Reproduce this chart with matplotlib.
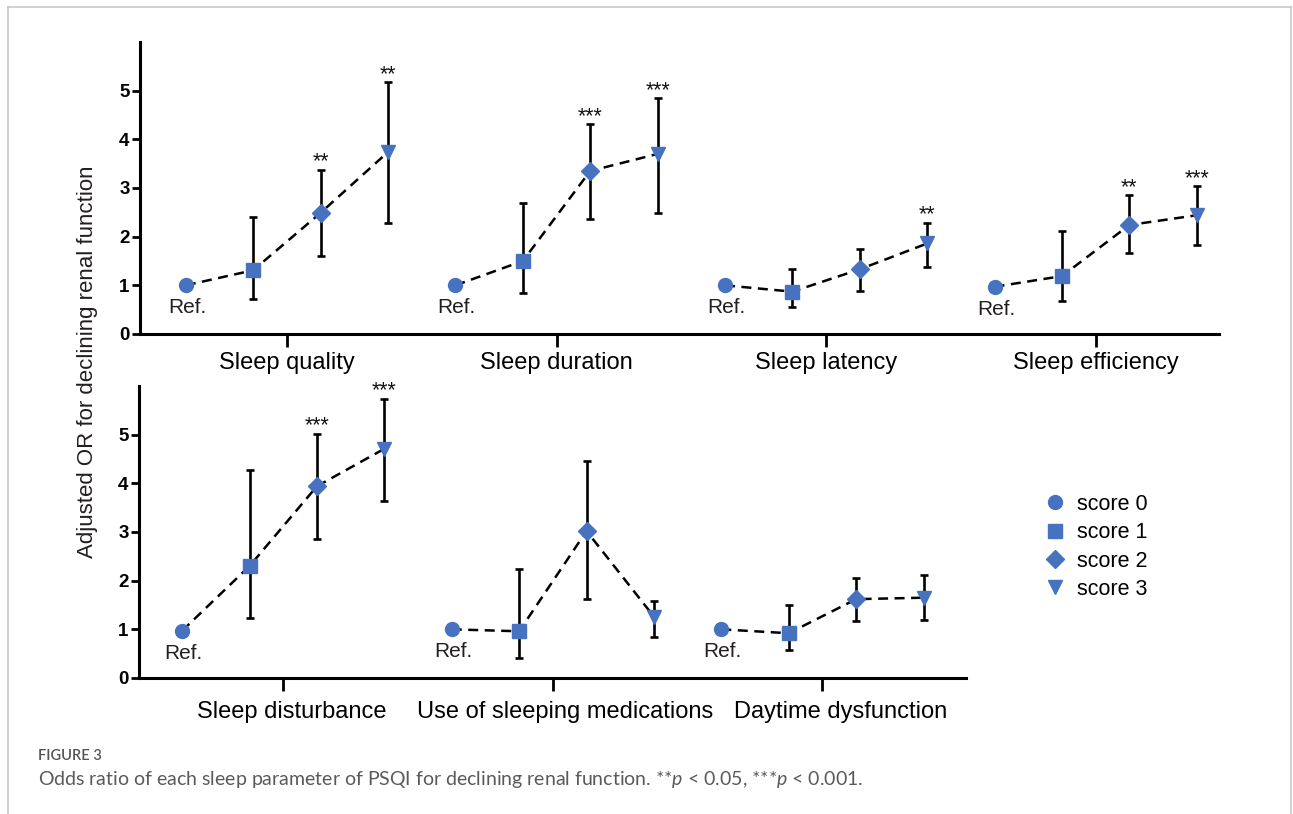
import numpy as np
import matplotlib
matplotlib.use("Agg")
import matplotlib.pyplot as plt
import matplotlib.transforms as mtransforms
from matplotlib.lines import Line2D

plt.rcParams['font.family'] = ['Liberation Sans', 'DejaVu Sans']
plt.rcParams['mathtext.fontset'] = 'custom'
plt.rcParams['mathtext.rm'] = 'Lato'
plt.rcParams['mathtext.it'] = 'Lato:italic'

# ---------------- data ----------------
categories_top = ["Sleep quality", "Sleep duration", "Sleep latency", "Sleep efficiency"]
categories_bottom = ["Sleep disturbance", "Use of sleeping medications", "Daytime dysfunction"]
score_labels = ["score 0", "score 1", "score 2", "score 3"]

# adjusted OR for score 0..3 (score 0 = Ref.)
or_sleep_quality = [1.00, 1.31, 2.49, 3.74]
lo_sleep_quality = [np.nan, 0.72, 1.61, 2.29]
hi_sleep_quality = [np.nan, 2.41, 3.38, 5.18]
sig_sleep_quality = ["", "", "**", "**"]

or_sleep_duration = [1.00, 1.50, 3.35, 3.70]
lo_sleep_duration = [np.nan, 0.85, 2.36, 2.48]
hi_sleep_duration = [np.nan, 2.70, 4.31, 4.85]
sig_sleep_duration = ["", "", "***", "***"]

or_sleep_latency = [1.00, 0.87, 1.33, 1.86]
lo_sleep_latency = [np.nan, 0.56, 0.88, 1.38]
hi_sleep_latency = [np.nan, 1.33, 1.75, 2.29]
sig_sleep_latency = ["", "", "", "**"]

or_sleep_efficiency = [0.97, 1.19, 2.24, 2.44]
lo_sleep_efficiency = [np.nan, 0.68, 1.66, 1.83]
hi_sleep_efficiency = [np.nan, 2.11, 2.85, 3.04]
sig_sleep_efficiency = ["", "", "**", "***"]

or_sleep_disturbance = [0.97, 2.30, 3.94, 4.71]
lo_sleep_disturbance = [np.nan, 1.24, 2.85, 3.63]
hi_sleep_disturbance = [np.nan, 4.28, 5.02, 5.74]
sig_sleep_disturbance = ["", "", "***", "***"]

or_medications = [1.00, 0.96, 3.02, 1.26]
lo_medications = [np.nan, 0.42, 1.62, 0.85]
hi_medications = [np.nan, 2.24, 4.46, 1.59]
sig_medications = ["", "", "", ""]

or_daytime = [1.00, 0.92, 1.62, 1.65]
lo_daytime = [np.nan, 0.57, 1.18, 1.19]
hi_daytime = [np.nan, 1.50, 2.05, 2.11]
sig_daytime = ["", "", "", ""]

y_ticks = [0, 1, 2, 3, 4, 5]

top_series = [
    (or_sleep_quality, lo_sleep_quality, hi_sleep_quality, sig_sleep_quality),
    (or_sleep_duration, lo_sleep_duration, hi_sleep_duration, sig_sleep_duration),
    (or_sleep_latency, lo_sleep_latency, hi_sleep_latency, sig_sleep_latency),
    (or_sleep_efficiency, lo_sleep_efficiency, hi_sleep_efficiency, sig_sleep_efficiency),
]
bottom_series = [
    (or_sleep_disturbance, lo_sleep_disturbance, hi_sleep_disturbance, sig_sleep_disturbance),
    (or_medications, lo_medications, hi_medications, sig_medications),
    (or_daytime, lo_daytime, hi_daytime, sig_daytime),
]

# ---------------- style ----------------
BLUE = "#4672C0"
MARKERS = ["o", "s", "D", "v"]
MSIZES = [10, 10, 9, 10]

W, H = 1293, 814
fig = plt.figure(figsize=(W / 100, H / 100), dpi=100)


def fx(px):
    return px / W


def fy(py):
    return 1 - py / H


ax_top = fig.add_axes([fx(140), fy(334), fx(1219) - fx(140), fy(42) - fy(334)])
ax_bot = fig.add_axes([fx(139), fy(678), fx(966) - fx(139), fy(386) - fy(678)])


def draw_panel(ax, cats, series, label_shift_px, label_pad):
    for ci, (vals, lo, hi, sig) in enumerate(series):
        xs = ci * 4 + np.arange(4)
        ax.plot(xs, vals, ls=(0, (4, 2.6)), color="black", lw=1.8, zorder=2)
        for k in range(4):
            v = vals[k]
            if not np.isnan(lo[k]):
                ax.errorbar([xs[k]], [v], yerr=[[v - lo[k]], [hi[k] - v]], fmt="none",
                            ecolor="black", elinewidth=1.9, capsize=3, capthick=1.9, zorder=3)
            ax.plot([xs[k]], [v], marker=MARKERS[k], ms=MSIZES[k], color=BLUE,
                    mec=BLUE, ls="none", zorder=4)
            if sig[k]:
                ax.annotate(sig[k], (xs[k], hi[k]), xytext=(0, 1.5), textcoords="offset points",
                            ha="center", va="baseline", fontsize=15.5, color="#111111")
        ax.annotate("Ref.", (xs[0], vals[0]), xytext=(1, -16), textcoords="offset points",
                    ha="center", va="center", fontsize=15, color="#231f20")
    ax.set_xticks([ci * 4 + 1.5 for ci in range(len(cats))])
    ax.set_xticklabels(cats)
    ax.set_ylim(0, 6)
    ax.set_yticks(y_ticks)
    ax.set_yticklabels([str(t) for t in y_ticks], fontweight="bold")
    for s in ["top", "right"]:
        ax.spines[s].set_visible(False)
    for s in ["left", "bottom"]:
        ax.spines[s].set_linewidth(2.2)
    ax.tick_params(axis="y", length=6, width=2, labelsize=13.5, pad=1.5)
    ax.tick_params(axis="x", length=9.5, width=2, labelsize=17, pad=label_pad, colors="black")
    for lab, dx in zip(ax.get_xticklabels(), label_shift_px):
        lab.set_transform(lab.get_transform() +
                          mtransforms.ScaledTranslation(dx / 100, 0, fig.dpi_scale_trans))


draw_panel(ax_top, categories_top, top_series, [0, 0, 0, 0], 3.5)
draw_panel(ax_bot, categories_bottom, bottom_series, [9, 12, 18], 7)

ax_top.set_xlim(-0.68, 15.33)
ax_bot.set_xlim(-0.64, 11.63)

fig.text(fx(88), fy(362), "Adjusted OR for declining renal function", rotation=90,
         ha="center", va="center", fontsize=16, color="#231f20")

handles = [Line2D([], [], marker=MARKERS[k], ms=MSIZES[k], color=BLUE, ls="none")
           for k in range(4)]
fig.legend(handles, score_labels, loc="center left", bbox_to_anchor=(fx(1036), fy(547)),
           frameon=False, fontsize=15.5, handletextpad=0.5, labelspacing=0.34,
           handlelength=1.0, borderaxespad=0)

# caption
fig.text(fx(38), fy(756), "FIGURE 3", fontsize=10.5, fontweight="semibold",
         family="Lato", color="#555555", ha="left", va="center")
fig.text(fx(38), fy(780),
         "Odds ratio of each sleep parameter of PSQI for declining renal function. "
         "**$p$ < 0.05, ***$p$ < 0.001.",
         fontsize=14, family="Lato", color="#5a5a5a", ha="left", va="center")

# frame
fc = "#c8c8c8"
fig.add_artist(Line2D([fx(8), fx(1291)], [fy(7), fy(7)], color=fc, lw=1.2))
fig.add_artist(Line2D([fx(8), fx(8)], [fy(7), 0], color=fc, lw=1.2))
fig.add_artist(Line2D([fx(1291), fx(1291)], [fy(7), 0], color=fc, lw=1.2))

fig.savefig("out.png", dpi=100)
